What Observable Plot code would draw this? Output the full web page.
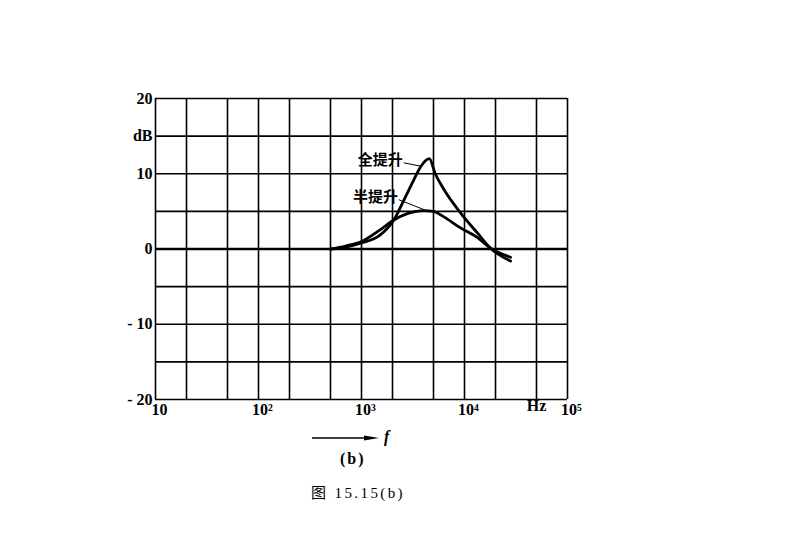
<!DOCTYPE html>
<html>
<head>
<meta charset="utf-8">
<script src="https://cdn.jsdelivr.net/npm/d3@7"></script>
<script src="https://cdn.jsdelivr.net/npm/@observablehq/plot@0.6"></script>
<style>
  html, body { margin: 0; padding: 0; background: #fff; }
  #wrap { position: relative; width: 800px; height: 542px; overflow: hidden; }
  .ov { position: absolute; font-family: "Liberation Serif", serif; color: #000; white-space: nowrap; }
</style>
</head>
<body>
<div id="wrap"></div>
<script>
// ---- data ----
const fullFreqs = [500, 700, 1000, 1500, 2060, 2580, 3220, 3740, 4150, 4550, 5200, 6250, 9150, 13400, 17900, 28000];
const fullBoost = [0,   0.25, 0.8, 1.8,  3.85, 6.5,  9.2,  10.9, 11.7, 12.0, 10.0, 8.0,  4.8,  2.1,   0.1,   -1.6];
const halfFreqs = [500, 700, 1000, 1500, 2060, 2780, 3400, 4000, 5000, 6250, 9150, 13400, 17900, 28000];
const halfBoost = [0,   0.4, 1.0,  2.5,  3.85, 4.7,  5.0,  5.1,  5.0,  4.3,  2.8,  1.5,   0.1,   -1.1];

const xTicks = [10, 100, 1000, 10000, 100000];
const xTickLabels = ["10", "10²", "10³", "10⁴", "10⁵"];
const unitTick = [50000];
const unitLabel = "Hz";
const yTicks = [20, 15, 10, 0, -10, -20];
const yTickLabels = ["20", "dB", "10", "0", "- 10", "- 20"];
const xGrid = [10, 20, 50, 100, 200, 500, 1000, 2000, 5000, 10000, 20000, 50000, 100000];
const yGrid = [-20, -15, -10, -5, 0, 5, 10, 15, 20];

const seriesNames = ["全提升", "半提升"];
const labelX = [2520, 2260];
const labelY = [11.8, 6.9];
const leaderX = [3800, 4100];
const leaderY = [11.0, 5.2];

// ---- build tables ----
const curves = [
  ...fullFreqs.map((f, i) => ({f, db: fullBoost[i], s: seriesNames[0]})),
  ...halfFreqs.map((f, i) => ({f, db: halfBoost[i], s: seriesNames[1]}))
];
const ann = seriesNames.map((s, i) => ({s, x: labelX[i], y: labelY[i], x2: leaderX[i], y2: leaderY[i]}));

const serif = "Liberation Serif";

const chart = Plot.plot({
  width: 800,
  height: 542,
  marginLeft: 155,
  marginRight: 233,
  marginTop: 98,
  marginBottom: 143,
  style: {fontFamily: serif, fontSize: "15px", color: "#000", background: "#fff"},
  x: {type: "log", domain: [10, 100000]},
  y: {domain: [-20, 20]},
  marks: [
    Plot.ruleX(xGrid, {stroke: "#000", strokeWidth: 1.6}),
    Plot.ruleY(yGrid, {stroke: "#000", strokeWidth: 1.6}),
    Plot.ruleY([0], {stroke: "#000", strokeWidth: 2.6}),
    Plot.line(curves, {x: "f", y: "db", z: "s", stroke: "#000", strokeWidth: 2.8, curve: "monotone-x"}),
    Plot.link(ann, {x1: d => d.x * 1.02, y1: d => d.y - 0.35, x2: "x2", y2: "y2", stroke: "#000", strokeWidth: 1}),
    Plot.text(ann, {x: "x", y: "y", text: "s", textAnchor: "end", fontFamily: "Noto Sans CJK SC", fontWeight: "bold", fontSize: 15}),
    Plot.axisX({ticks: xTicks, tickFormat: d => xTickLabels[xTicks.indexOf(d)], tickSize: 0, tickPadding: 4, dx: 4, fontSize: 16, fontFamily: serif, fontWeight: "bold", label: null}),
    Plot.text([unitLabel], {x: unitTick, frameAnchor: "bottom", dy: 11, fontSize: 16, fontFamily: serif, fontWeight: "bold"}),
    Plot.axisY({ticks: yTicks, tickFormat: d => yTickLabels[yTicks.indexOf(d)], tickSize: 0, tickPadding: 3, fontSize: 16, fontFamily: serif, fontWeight: "bold", label: null})
  ]
});

const wrap = document.getElementById("wrap");
wrap.appendChild(chart);

// arrow "→ f"
const arrow = document.createElement("div");
arrow.className = "ov";
arrow.style.left = "312px"; arrow.style.top = "430px";
arrow.innerHTML = '<svg width="70" height="16"><line x1="0" y1="8" x2="60" y2="8" stroke="#000" stroke-width="1.6"/><path d="M52,5.5 L67,8 L52,10.5 Z" fill="#000"/></svg>';
wrap.appendChild(arrow);

const fLab = document.createElement("div");
fLab.className = "ov";
fLab.style.left = "384px"; fLab.style.top = "428px";
fLab.style.fontStyle = "italic"; fLab.style.fontWeight = "bold"; fLab.style.fontSize = "16px";
fLab.textContent = "f";
wrap.appendChild(fLab);

const bLab = document.createElement("div");
bLab.className = "ov";
bLab.style.left = "340px"; bLab.style.top = "450px";
bLab.style.fontWeight = "bold"; bLab.style.fontSize = "16px"; bLab.style.letterSpacing = "2px";
bLab.textContent = "(b)";
wrap.appendChild(bLab);

const cap = document.createElement("div");
cap.className = "ov";
cap.style.left = "311px"; cap.style.top = "481px";
cap.style.fontSize = "15px"; cap.style.letterSpacing = "2.4px";
cap.innerHTML = '<span style="font-family:\'Noto Sans CJK SC\'">图</span>&nbsp;15.15(b)';
wrap.appendChild(cap);
</script>
</body>
</html>
